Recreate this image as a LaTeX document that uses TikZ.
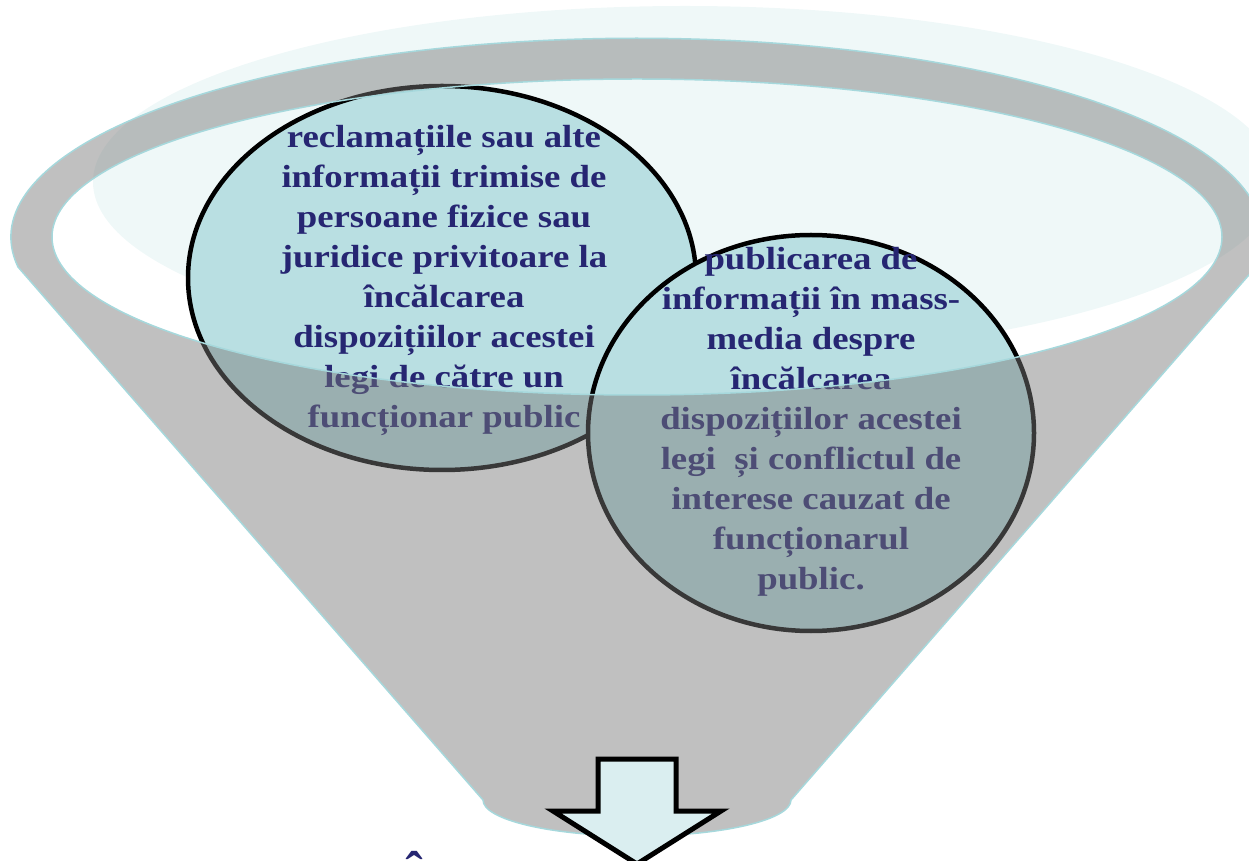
\documentclass[tikz,border=0pt]{standalone}
\usepackage{fontspec}
\setmainfont{Liberation Serif}
\usetikzlibrary{shapes.geometric}
\definecolor{navy}{RGB}{38,38,114}
\definecolor{faint}{RGB}{239,248,248}
\definecolor{bubble}{RGB}{185,223,226}
\definecolor{rimline}{RGB}{166,216,220}
\definecolor{funnelgray}{RGB}{121,121,121}
\definecolor{arrowfill}{RGB}{218,238,240}
\begin{document}
\begin{tikzpicture}[x=1pt,y=1pt,
  bubble/.style={shape=ellipse, draw=black, line width=4.5pt, fill=bubble, inner sep=0},
  bubbletext/.style={font=\bfseries\fontsize{32}{40}\selectfont, text=navy, align=center, inner sep=0, xscale=1.15, transform shape},
  funnelfill/.style={fill=funnelgray, fill opacity=0.47, even odd rule},
  funnelline/.style={draw=rimline, line width=1.5pt},
  downarrow/.style={draw=black, line width=5pt, fill=arrowfill, miter limit=10}
]
\useasboundingbox (0,0) rectangle (1249,860);
% faint back ellipse
\fill[faint] (685,678) ellipse [x radius=592, y radius=176];
% bubbles
\node[bubble, minimum width=508pt, minimum height=384pt] (c1) at (442,582) {};
\node[bubbletext] (t1) at (444,580) {reclamațiile sau alte\\informații trimise de\\persoane fizice sau\\juridice privitoare la\\încălcarea\\dispozițiilor acestei\\legi de către un\\funcționar public};
\node[bubble, minimum width=446pt, minimum height=396pt] (c2) at (811,427) {};
\node[bubbletext] (t2) at (811,438) {publicarea de\\informații în mass-\\media despre\\încălcarea\\dispozițiilor acestei\\legi\ \ și conflictul de\\interese cauzat de\\funcționarul\\public.};
% funnel
\coordinate (fl) at (18,593);
\coordinate (fr) at (791,60);
\coordinate (ic) at (637,623);
\path[funnelfill] (fl) arc[start angle=188.6, end angle=-8.6, x radius=626, y radius=199] -- (fr) arc[start angle=0, end angle=-180, x radius=154, y radius=36] -- cycle
  (ic) ellipse[x radius=585, y radius=158];
\path[funnelline] (fl) arc[start angle=188.6, end angle=-8.6, x radius=626, y radius=199] -- (fr) arc[start angle=0, end angle=-180, x radius=154, y radius=36] -- cycle
  (ic) ellipse[x radius=585, y radius=158];
% arrow
\coordinate (a1) at (598,101);
\coordinate (a2) at (676,101);
\coordinate (a3) at (676,49);
\coordinate (a4) at (721,49);
\coordinate (a5) at (637,-4);
\coordinate (a6) at (553,49);
\coordinate (a7) at (598,49);
\draw[downarrow] (a1) -- (a2) -- (a3) -- (a4) -- (a5) -- (a6) -- (a7) -- cycle;
% partially visible text at bottom
\node[anchor=north, inner sep=0, text=navy, font=\bfseries\fontsize{52}{60}\selectfont] (hint) at (415,9) {Î};
\end{tikzpicture}
\end{document}
